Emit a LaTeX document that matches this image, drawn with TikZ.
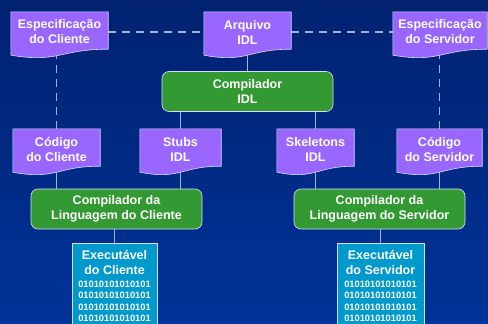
\documentclass[tikz,border=0pt]{standalone}
\usepackage{fontspec}
\setmainfont{Liberation Sans}
\usetikzlibrary{positioning,calc}
\definecolor{bgtop}{RGB}{0,34,112}
\definecolor{bgbottom}{RGB}{0,51,153}
\definecolor{doccolor}{RGB}{153,102,255}
\definecolor{compcolor}{RGB}{51,153,51}
\definecolor{execcolor}{RGB}{0,153,204}
\definecolor{linkcolor}{RGB}{160,178,216}
\definecolor{edgecolor}{RGB}{220,220,250}
\pgfdeclarelayer{bglayer}
\pgfdeclarelayer{links}
\pgfdeclarelayer{docs}
\pgfsetlayers{bglayer,links,docs,main}
\newcommand{\binline}{01010101010101}
\newcommand{\binfont}{\fontsize{9.3}{11.3}\selectfont\bfseries}

\begin{document}
\begin{tikzpicture}[
    x=1pt, y=-1pt,
    % Estilos dos blocos
    block/.style={
        rectangle,
        align=center,
        font=\fontsize{12.5}{15}\selectfont\bfseries,
        text=white,
        inner sep=1pt,
    },
    docblock/.style={block, minimum height=40pt},
    compblock/.style={block, draw=edgecolor, line width=0.6pt, fill=compcolor,
        rounded corners=7pt, minimum width=171pt, minimum height=40pt},
    execblock/.style={block, draw=edgecolor, line width=0.6pt, fill=execcolor,
        anchor=north, inner ysep=7pt},
    docshape/.style={draw=edgecolor, line width=0.6pt, fill=doccolor},
    % Estilos das linhas
    link/.style={draw=linkcolor, line width=1.3pt},
    dashlink/.style={link, dash pattern=on 8pt off 6pt},
]

\useasboundingbox (0,0) rectangle (488,324);
\clip (0,0) rectangle (488,324);
\begin{pgfonlayer}{bglayer}
    \shade[top color=bgtop, middle color=bgbottom, bottom color=bgbottom] (0,0) rectangle (488,324);
\end{pgfonlayer}

% ============================================================================
% ESPECIFICACOES E IDL
% ============================================================================
\node[docblock, minimum width=97pt] (speccli) at (59.5,32) {Especificação\\do Cliente};
\node[docblock, minimum width=87pt] (arqidl) at (247.5,32) {Arquivo\\IDL};
\node[docblock, minimum width=94pt] (specsrv) at (440,32) {Especificação\\do Servidor};

\node[compblock, below=19pt of arqidl] (compidl) {Compilador\\IDL};

% ============================================================================
% CODIGO, STUBS E SKELETONS
% ============================================================================
\node[docblock, minimum width=87pt] (codcli) at (56.5,149) {Código\\do Cliente};
\node[docblock, minimum width=81pt] (stubs) at (180.5,149) {Stubs\\IDL};
\node[docblock, minimum width=77pt] (skel) at (315.5,149) {Skeletons\\IDL};
\node[docblock, minimum width=85pt] (codsrv) at (439.5,149) {Código\\do Servidor};

% ============================================================================
% COMPILADORES DA LINGUAGEM
% ============================================================================
\node[compblock] (compcli) at (116.5,209) {Compilador da\\Linguagem do Cliente};
\node[compblock] (compsrv) at (379.5,209) {Compilador da\\Linguagem do Servidor};

% ============================================================================
% EXECUTAVEIS
% ============================================================================
\node[execblock, minimum width=85pt] (execcli) at (114.5,243) {Executável\\do Cliente\\[-2pt]
    {\binfont\begin{tabular}[t]{@{}c@{}}\binline\\\binline\\\binline\\\binline\end{tabular}}};
\node[execblock, minimum width=87pt] (execsrv) at (380.5,243) {Executável\\do Servidor\\[-2pt]
    {\binfont\begin{tabular}[t]{@{}c@{}}\binline\\\binline\\\binline\\\binline\end{tabular}}};

% ============================================================================
% LINHAS
% ============================================================================
\begin{pgfonlayer}{links}
    \draw[dashlink] (speccli.east) -- (arqidl.west);
    \draw[dashlink] (arqidl.east) -- (specsrv.west);
    \draw[dashlink] (codcli.north) -- (codcli.north |- speccli.south);
    \draw[dashlink] (codsrv.north) -- (codsrv.north |- specsrv.south);

    \draw[link] (arqidl.south) -- (compidl.north);
    \draw[link] (stubs.north) -- (stubs.north |- compidl.south);
    \draw[link] (skel.north) -- (skel.north |- compidl.south);

    \draw[link] (codcli.south) -- (codcli.south |- compcli.north);
    \draw[link] (stubs.south) -- (stubs.south |- compcli.north);
    \draw[link] (skel.south) -- (skel.south |- compsrv.north);
    \draw[link] (codsrv.south) -- (codsrv.south |- compsrv.north);

    \draw[link] (execcli.north) -- (execcli.north |- compcli.south);
    \draw[link] (execsrv.north) -- (execsrv.north |- compsrv.south);
\end{pgfonlayer}

% Formas de documento
\begin{pgfonlayer}{docs}
    \foreach \n in {speccli,arqidl,specsrv,codcli,stubs,skel,codsrv}
        \draw[docshape] (\n.north west) -- (\n.north east) -- ($(\n.south east)+(0,-3)$)
            .. controls ($(\n.south)+(0,-3)$) and ($(\n.south)+(0,11)$) .. ($(\n.south west)+(0,3)$) -- cycle;
\end{pgfonlayer}

\end{tikzpicture}
\end{document}
